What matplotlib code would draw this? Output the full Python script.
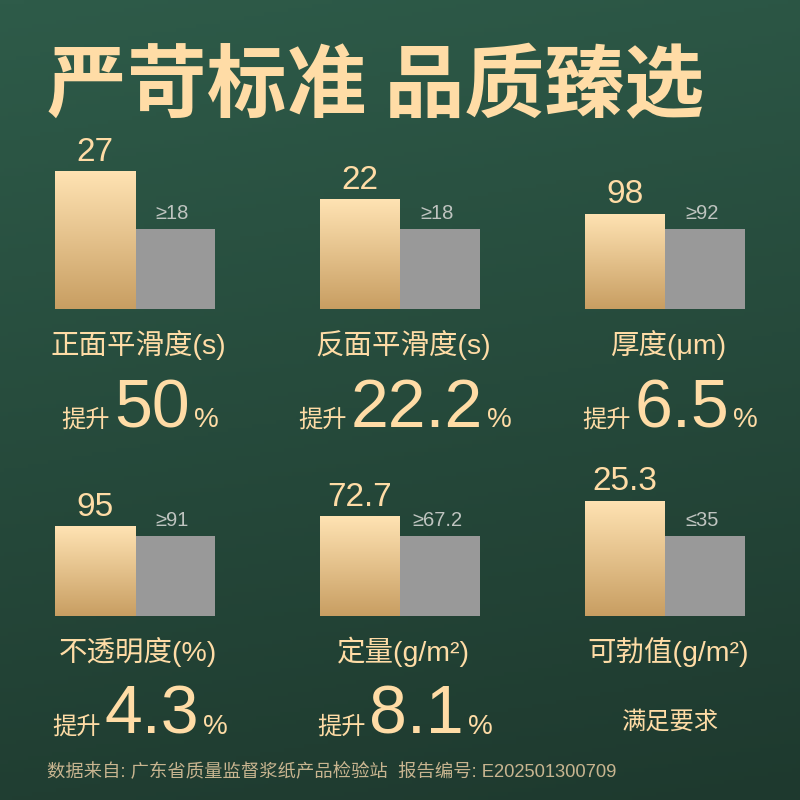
import numpy as np
import matplotlib
matplotlib.use('Agg')
import matplotlib.pyplot as plt
from matplotlib.colors import LinearSegmentedColormap
from matplotlib.transforms import IdentityTransform

# ---------------- data ----------------
title = '严苛标准 品质臻选'
categories = ['正面平滑度(s)', '反面平滑度(s)', '厚度(μm)', '不透明度(%)', '定量(g/m²)', '可勃值(g/m²)']
product_values = ['27', '22', '98', '95', '72.7', '25.3']
standard_labels = ['≥18', '≥18', '≥92', '≥91', '≥67.2', '≤35']
# drawn bar heights (relative to the standard bar = 1)
product_heights = [1.725, 1.375, 1.19, 1.125, 1.25, 1.44]
standard_heights = [1, 1, 1, 1, 1, 1]
improvements = ['50', '22.2', '6.5', '4.3', '8.1', None]
improve_prefix = '提升'
improve_suffix = '%'
meets_text = '满足要求'
footer = '数据来自: 广东省质量监督浆纸产品检验站  报告编号: E202501300709'

# ---------------- style ----------------
W = H = 800
GOLD = '#FFDCA6'
GRAY_BAR = '#999999'
GRAY_TXT = '#BFC4C0'
FOOT = '#C8B590'
CJK = ['Noto Sans CJK SC', 'DejaVu Sans']
LAT = ['Liberation Sans', 'Noto Sans CJK SC', 'DejaVu Sans']

fig = plt.figure(figsize=(8, 8), dpi=100)

# background gradient
bg = fig.add_axes([0, 0, 1, 1])
yy, xx = np.mgrid[0:1:200j, 0:1:200j]
t = 0.85 * yy + 0.15 * xx
bg_cmap = LinearSegmentedColormap.from_list('bg', ['#2E5B49', '#1E392E'])
bg.imshow(t, cmap=bg_cmap, extent=(0, 1, 0, 1), aspect='auto', origin='upper', vmin=0, vmax=1)
bg.set_xlim(0, 1); bg.set_ylim(0, 1)
bg.axis('off')

gold_cmap = LinearSegmentedColormap.from_list('gold', ['#FFE3B3', '#C89E62'])

# title
fig.text(47 / W, 1 - 88 / H, title, color=GOLD, fontsize=57.5, fontweight='bold',
         family=CJK, ha='left', va='center')

col_left = [55, 320, 585]
row_bottom = [309, 616]
bar_w_px = 80
ax_h_px = 200
ymax = 2.5

renderer = fig.canvas.get_renderer()

for i, cat in enumerate(categories):
    r, c = divmod(i, 3)
    left = col_left[c]
    bottom = row_bottom[r]
    ax = fig.add_axes([left / W, 1 - bottom / H, 2 * bar_w_px / W, ax_h_px / H])
    ax.set_facecolor('none')
    ph = product_heights[i]
    sh = standard_heights[i]
    bars = ax.bar([0, 1], [ph, sh], width=1, align='edge',
                  color=['none', GRAY_BAR], edgecolor='none')
    grad = np.linspace(0, 1, 256)[:, None]
    im = ax.imshow(grad, cmap=gold_cmap, extent=(0, 1, 0, ph), aspect='auto',
                   origin='upper', zorder=1)
    im.set_clip_path(bars[0])
    ax.set_xlim(0, 2)
    ax.set_ylim(0, ymax)
    ax.axis('off')
    ax.annotate(product_values[i], xy=(0.5, ph), xytext=(0, 7.5), textcoords='offset points',
                ha='center', va='baseline', fontsize=24, color=GOLD, family=LAT)
    ax.annotate(standard_labels[i], xy=(1.5, sh), xytext=(-2, 7.5), textcoords='offset points',
                ha='center', va='baseline', fontsize=14.5, color=GRAY_TXT, family=LAT)

    cx = left + bar_w_px
    cat_y = bottom + 36
    fig.text((cx + 3) / W, 1 - cat_y / H, cat, ha='center', va='center', fontsize=20.5,
             color=GOLD, family=LAT)

    base_y = bottom + 118
    if improvements[i] is None:
        fig.text((cx + 5) / W, 1 - (bottom + 106) / H, meets_text, ha='center', va='center',
                 fontsize=17.5, color=GOLD, family=CJK, fontweight='medium')
        continue
    tr = IdentityTransform()
    t1 = fig.text(0, H - base_y, improve_prefix, transform=tr, fontsize=17.5, color=GOLD,
                  family=CJK, ha='left', va='baseline', fontweight='medium')
    t2 = fig.text(0, H - base_y, improvements[i], transform=tr, fontsize=49, color=GOLD,
                  family=LAT, ha='left', va='baseline')
    t3 = fig.text(0, H - base_y, improve_suffix, transform=tr, fontsize=20, color=GOLD,
                  family=LAT, ha='left', va='baseline')
    w1 = t1.get_window_extent(renderer).width
    w2 = t2.get_window_extent(renderer).width
    w3 = t3.get_window_extent(renderer).width
    g1, g2 = 4, 4
    total = w1 + g1 + w2 + g2 + w3
    x0 = cx + 5 - total / 2
    t1.set_x(x0)
    t2.set_x(x0 + w1 + g1)
    t3.set_x(x0 + w1 + g1 + w2 + g2)

fig.text(47 / W, 1 - 772 / H, footer, ha='left', va='center', fontsize=13.2,
         color=FOOT, family=LAT)

fig.savefig('out.png', dpi=100)
